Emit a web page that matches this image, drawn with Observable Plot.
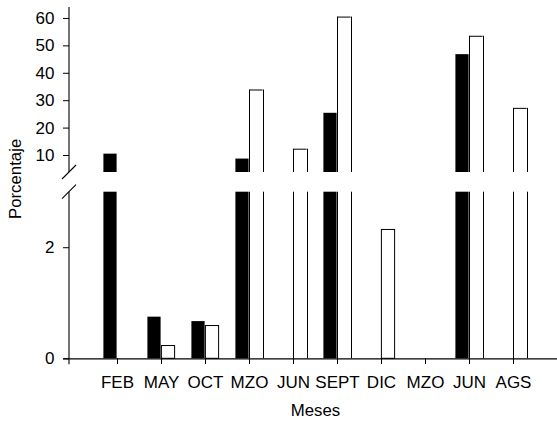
<!DOCTYPE html>
<html>
<head>
<meta charset="utf-8">
<script src="https://cdn.jsdelivr.net/npm/d3@7"></script>
<script src="https://cdn.jsdelivr.net/npm/@observablehq/plot@0.6"></script>
<style>
  html, body { margin: 0; padding: 0; background: white; }
  #chart svg g[aria-label$="axis"] text,
  #chart svg g[aria-label$="tick label"] text { font-size: 17px; }
</style>
</head>
<body>
<div id="chart"></div>
<script>
// Categories (months; labels repeat, so bars are keyed by index)
const months = ["FEB", "MAY", "OCT", "MZO", "JUN", "SEPT", "DIC", "MZO", "JUN", "AGS"];
// Series values (percent)
const seriesBlack = [10.5, 0.75, 0.67, 8.7, 0, 25.4, 0, 0, 46.8, 0];
const seriesWhite = [0, 0.23, 0.59, 33.9, 12.3, 60.5, 2.32, 0, 53.5, 27.2];
// Y tick labels
const yTicks = [0, 2, 10, 20, 30, 40, 50, 60];
// Axis break (lower segment top, upper segment bottom) and axis maximum
const breakLow = 3;
const breakHigh = 3.8;
const yMax = 64;

const rows = months.map((m, i) => ({i, month: m, black: seriesBlack[i], white: seriesWhite[i]}));

// Black bars: solid, split at the axis break
const blackLower = rows.filter(d => d.black > 0).map(d => ({i: d.i, y1: 0, y2: Math.min(d.black, breakLow)}));
const blackUpper = rows.filter(d => d.black > breakHigh).map(d => ({i: d.i, y1: breakHigh, y2: d.black}));

// White bars: outlined, open where they cross the break
const whiteLowerFull = rows.filter(d => d.white > 0 && d.white <= breakLow).map(d => ({i: d.i, y1: 0, y2: d.white}));
const whiteLowerCut = rows.filter(d => d.white > breakLow).map(d => ({i: d.i, y1: 0, y2: breakLow}));
const whiteUpper = rows.filter(d => d.white > breakHigh).map(d => ({i: d.i, y1: breakHigh, y2: d.white}));
const whiteEdges = [...whiteLowerCut, ...whiteUpper];

const plot = Plot.plot({
  width: 557,
  height: 421,
  marginLeft: 69,
  marginRight: 0,
  marginTop: 7,
  marginBottom: 63,
  style: {fontFamily: "'Liberation Sans', Arial, sans-serif", fontSize: "17px", background: "white", color: "black"},
  x: {
    type: "band",
    domain: d3.range(months.length),
    range: [90.9, 539.1],
    padding: 0,
    tickFormat: i => months[i],
    tickSize: 6,
    tickPadding: 11,
    label: null
  },
  y: {
    type: "linear",
    domain: [0, breakLow, breakHigh, yMax],
    range: [358.3, 191.7, 172, 7],
    ticks: yTicks,
    tickSize: 6,
    tickPadding: 9,
    label: null
  },
  marks: [
    Plot.rectY(blackLower, {x: "i", y1: "y1", y2: "y2", fill: "black", insetLeft: 8.4, insetRight: 22.4}),
    Plot.rectY(blackUpper, {x: "i", y1: "y1", y2: "y2", fill: "black", insetLeft: 8.4, insetRight: 22.4}),
    Plot.rectY(whiteLowerFull, {x: "i", y1: "y1", y2: "y2", fill: "white", stroke: "black", strokeWidth: 1, insetLeft: 22.4, insetRight: 8.4}),
    Plot.ruleX(whiteEdges, {x: "i", y1: "y1", y2: "y2", stroke: "black", strokeWidth: 1, dx: 0}),
    Plot.ruleX(whiteEdges, {x: "i", y1: "y1", y2: "y2", stroke: "black", strokeWidth: 1, dx: 14}),
    Plot.tickY(whiteUpper, {x: "i", y: "y2", stroke: "black", strokeWidth: 1, insetLeft: 22.4, insetRight: 8.4}),
    Plot.ruleY([0], {stroke: "black", strokeWidth: 1.2, insetLeft: -6}),
    Plot.text(["Meses"], {frameAnchor: "bottom", text: d => d, dy: 57, dx: 2, fontSize: 16.8}),
    Plot.text(["Porcentaje"], {frameAnchor: "left", text: d => d, rotate: -90, dx: -54, dy: 36, fontSize: 16.8})
  ]
});

document.getElementById("chart").appendChild(plot);

// Axis decorations drawn with the library's own scales
const ys = plot.scale("y");
const svg = d3.select(plot);
const ax = 69;
const g = svg.append("g").attr("stroke", "black").attr("stroke-width", 1.1).attr("fill", "none");
// y-axis line in two segments around the break
g.append("line").attr("x1", ax).attr("x2", ax).attr("y1", ys.apply(0)).attr("y2", ys.apply(breakLow));
g.append("line").attr("x1", ax).attr("x2", ax).attr("y1", ys.apply(breakHigh)).attr("y2", ys.apply(yMax));
// break slashes
[breakLow, breakHigh].forEach(v => {
  const cy = ys.apply(v);
  g.append("line").attr("x1", ax - 7).attr("y1", cy + 7).attr("x2", ax + 7).attr("y2", cy - 7);
});
// origin tick on x axis
g.append("line").attr("x1", ax).attr("x2", ax).attr("y1", ys.apply(0)).attr("y2", ys.apply(0) + 6);
</script>
</body>
</html>
